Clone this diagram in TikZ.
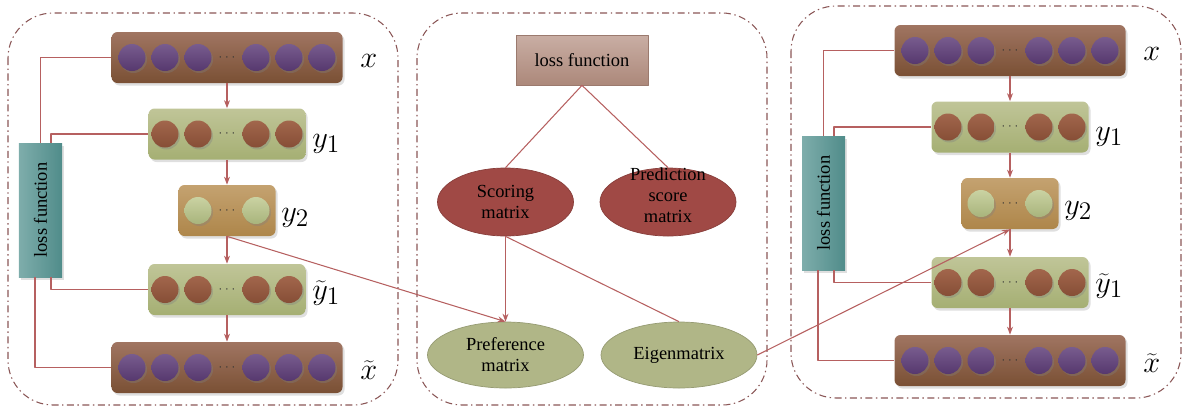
\documentclass[tikz,border=0pt]{standalone}
\usepackage{fontspec}
\setmainfont{Liberation Serif}
\usepackage{graphicx}
\usetikzlibrary{positioning,shapes.geometric,shadows,arrows.meta}

\definecolor{linkred}{RGB}{182,96,96}
\definecolor{framered}{RGB}{138,86,86}
\definecolor{intop}{RGB}{160,117,98}
\definecolor{inbot}{RGB}{122,80,52}
\definecolor{purtop}{RGB}{120,92,142}
\definecolor{purbot}{RGB}{86,56,110}
\definecolor{hidtop}{RGB}{192,197,152}
\definecolor{hidbot}{RGB}{165,175,115}
\definecolor{brntop}{RGB}{162,102,76}
\definecolor{brnbot}{RGB}{134,78,54}
\definecolor{codtop}{RGB}{196,162,112}
\definecolor{codbot}{RGB}{174,134,74}
\definecolor{lgrtop}{RGB}{202,210,162}
\definecolor{lgrbot}{RGB}{168,180,124}
\definecolor{tealleft}{RGB}{126,173,171}
\definecolor{tealright}{RGB}{80,140,138}
\definecolor{mlosstop}{RGB}{201,174,164}
\definecolor{mlossbot}{RGB}{172,136,122}
\definecolor{redell}{RGB}{160,73,69}
\definecolor{oliveell}{RGB}{176,182,135}

\begin{document}
\begin{tikzpicture}[x=0.2mm, y=-0.2mm, >={Stealth[length=1.6mm,width=1.2mm]}, font=\fontsize{10.5}{12}\selectfont, line join=round,
	panel/.style={draw=framered, line width=0.6pt, dash pattern=on 4pt off 2pt on 0.8pt off 2pt, rounded corners=9mm},
	layer/.style={rounded corners=1.2mm, minimum height=10.2mm, inner sep=0pt, drop shadow={shadow xshift=0.4mm, shadow yshift=-0.5mm, opacity=0.25}},
	inbox/.style={layer, minimum width=46.2mm, top color=intop, bottom color=inbot},
	hidbox/.style={layer, minimum width=31.4mm, top color=hidtop, bottom color=hidbot},
	codebox/.style={layer, minimum width=19.4mm, top color=codtop, bottom color=codbot},
	unit/.style={circle, minimum size=5.4mm, inner sep=0pt, drop shadow={shadow xshift=0.3mm, shadow yshift=-0.4mm, opacity=0.35}},
	unitp/.style={unit, top color=purtop, bottom color=purbot},
	unitb/.style={unit, top color=brntop, bottom color=brnbot},
	unitg/.style={unit, top color=lgrtop, bottom color=lgrbot},
	dots/.style={font=\scriptsize, text=black!80, inner sep=0pt},
	lossv/.style={minimum width=8.6mm, minimum height=26.8mm, inner sep=0pt, left color=tealleft, right color=tealright, drop shadow={shadow xshift=0.4mm, shadow yshift=-0.5mm, opacity=0.25}},
	mloss/.style={draw=mlossbot!90!black, minimum width=26.4mm, minimum height=10mm, top color=mlosstop, bottom color=mlossbot},
	ell/.style={ellipse, inner sep=0pt, align=center},
	scoreell/.style={ell, minimum width=27.2mm, minimum height=13.6mm, fill=redell, draw=redell!85!black},
	matell/.style={ell, minimum width=31.2mm, minimum height=13.2mm, fill=oliveell, draw=oliveell!85!black},
	link/.style={draw=linkred, line width=0.6pt},
	lbl/.style={font=\fontsize{19}{22}\selectfont, inner sep=0pt, anchor=base west}]
	\useasboundingbox (0,0) rectangle (1185,410);
	% two autoencoders
	\foreach \p/\dx/\dy in {L/0/0,R/783/-7}{
	\begin{scope}[shift={(\dx,\dy)}]
		\draw[panel] (8,13) rectangle (398,405);
		\node[inbox] (\p x) at (227,57.5) {};
		\node[hidbox] (\p y1) at (227,134) {};
		\node[codebox] (\p y2) at (227,210.5) {};
		\node[hidbox] (\p yt) at (227,289.5) {};
		\node[inbox] (\p xt) at (227,367.5) {};
		\node[lossv] (\p loss) at (40.5,210) {\rotatebox{90}{loss function}};
		\foreach \o [count=\k] in {-95,-62,-29,29,62,95}{
			\node[unitp] (\p xu\k) at (227+\o,57.5) {};
			\node[unitp] (\p xtu\k) at (227+\o,367.5) {};
		}
		\foreach \o [count=\k] in {-62,-29,29,62}{
			\node[unitb] (\p yu\k) at (227+\o,134) {};
			\node[unitb] (\p ytu\k) at (227+\o,289.5) {};
		}
		\foreach \o [count=\k] in {-29,29}
			\node[unitg] (\p cu\k) at (227+\o,210.5) {};
		\foreach \n in {x,y1,y2,yt,xt}
			\node[dots] (\p\n dots) at (\p\n) {$\cdots$};
		\draw[link,->] (\p x) -- (\p y1);
		\draw[link,->] (\p y1) -- (\p y2);
		\draw[link,->] (\p y2) -- (\p yt);
		\draw[link,->] (\p yt) -- (\p xt);
		\draw[link] (\p x.west) -| (\p loss.north);
		\draw[link] (\p y1.west) -| ([xshift=2.1mm]\p loss.north);
		\draw[link] ([xshift=2.1mm]\p loss.south) |- (\p yt.west);
		\draw[link] ([xshift=-1.1mm]\p loss.south) |- (\p xt.west);
		\node[lbl] (\p xl) at (360,67) {$x$};
		\node[lbl] (\p y1l) at (312,147) {$y_1$};
		\node[lbl] (\p y2l) at (281,221) {$y_2$};
		\node[lbl] (\p ytl) at (312,299) {$\widetilde{y}_1$};
		\node[lbl] (\p xtl) at (360,379) {$\widetilde{x}$};
	\end{scope}}
	% matrices in the middle
	\draw[panel] (417,13) rectangle (767,405);
	\node[mloss] (mloss) at (582,60) {loss function};
	\node[scoreell] (score) at (505.5,202) {Scoring\\matrix};
	\node[scoreell] (pred) at (668,202) {\smash{\begin{tabular}{@{}c@{}}Prediction\\score\\matrix\end{tabular}}};
	\node[matell] (pref) at (505.5,355) {Preference\\matrix};
	\node[matell] (eigen) at (679,355) {Eigenmatrix};
	\draw[link] (mloss.south) -- (score.north);
	\draw[link] (mloss.south) -- (pred.north);
	\draw[link,->] (score.south) -- (pref.north);
	\draw[link] (score.south) -- (eigen.north);
	\draw[link,->] (Ly2.south) -- (pref.north);
	\draw[link,->] (eigen.east) -- (Ry2.south);
\end{tikzpicture}
\end{document}
